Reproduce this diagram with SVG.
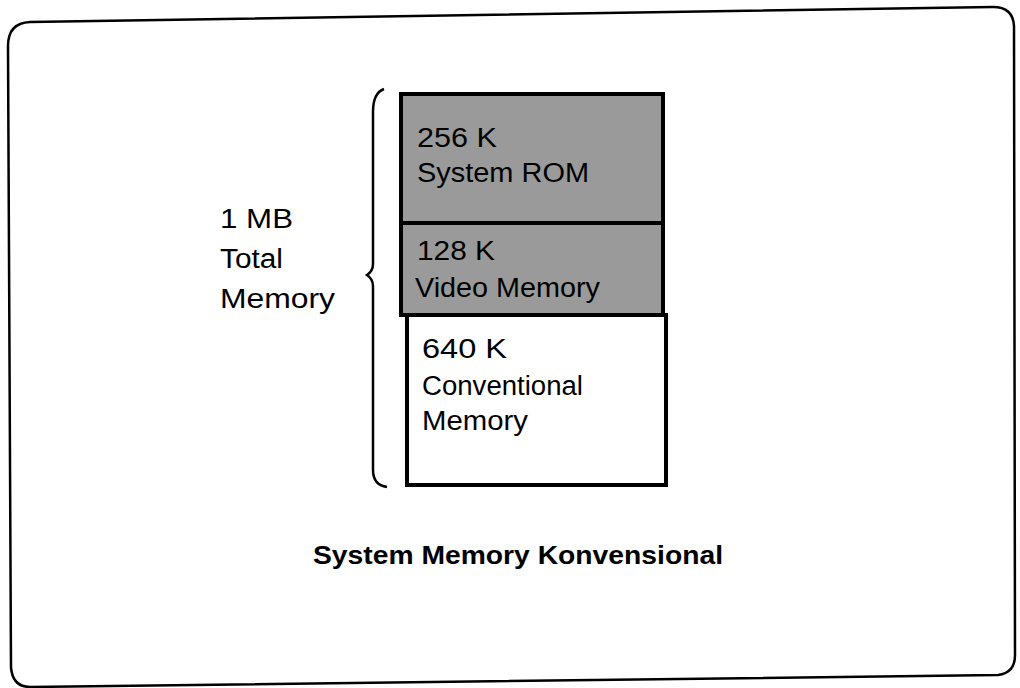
<svg xmlns="http://www.w3.org/2000/svg" width="1020" height="688" viewBox="0 0 1020 688">
<style>
.t{font-family:"Liberation Sans",Arial,sans-serif;font-size:27px;fill:#000}
.b{font-weight:bold;font-size:26px}
.ln{fill:none;stroke:#000}
.g{fill:#9a9a9a;stroke:#000;stroke-width:4}
.w{fill:#fff;stroke:#000;stroke-width:4}
</style>
<rect width="1020" height="688" fill="#fff"/>
<g id="frame">
<path class="ln" stroke-width="2.5" d="M30,22 L993,7 Q1013,7 1014,26 L1015,655 Q1015,673 998,675 L30,687 Q13,687 11,668 L8,46 Q8,23 30,22 Z"/>
</g>
<g id="rom">
<rect class="g" x="401" y="94" width="262" height="129"/>
<text class="t" x="417" y="147" textLength="80" lengthAdjust="spacingAndGlyphs">256 K</text>
<text class="t" x="417" y="182" textLength="172" lengthAdjust="spacingAndGlyphs">System ROM</text>
</g>
<g id="video">
<rect class="g" x="401" y="223" width="262" height="92"/>
<text class="t" x="417" y="260" textLength="78" lengthAdjust="spacingAndGlyphs">128 K</text>
<text class="t" x="415" y="297" textLength="185" lengthAdjust="spacingAndGlyphs">Video Memory</text>
</g>
<g id="conventional">
<rect class="w" x="407" y="315" width="259" height="170"/>
<text class="t" x="422" y="358" textLength="85" lengthAdjust="spacingAndGlyphs">640 K</text>
<text class="t" x="422" y="395" textLength="161" lengthAdjust="spacingAndGlyphs">Conventional</text>
<text class="t" x="422" y="430" textLength="106" lengthAdjust="spacingAndGlyphs">Memory</text>
</g>
<g id="total">
<text class="t" x="220" y="228" textLength="73" lengthAdjust="spacingAndGlyphs">1 MB</text>
<text class="t" x="220" y="268" textLength="63" lengthAdjust="spacingAndGlyphs">Total</text>
<text class="t" x="220" y="308" textLength="115" lengthAdjust="spacingAndGlyphs">Memory</text>
</g>
<g id="connectors">
<path class="ln" stroke-width="2.5" d="M384,89 Q373,93 373,112 L373,264 Q373,271 367,275 Q373,279 373,286 L373,470 Q373,485 387,487"/>
</g>
<g id="caption">
<text class="t b" x="313" y="564" textLength="410" lengthAdjust="spacingAndGlyphs">System Memory Konvensional</text>
</g>
</svg>
